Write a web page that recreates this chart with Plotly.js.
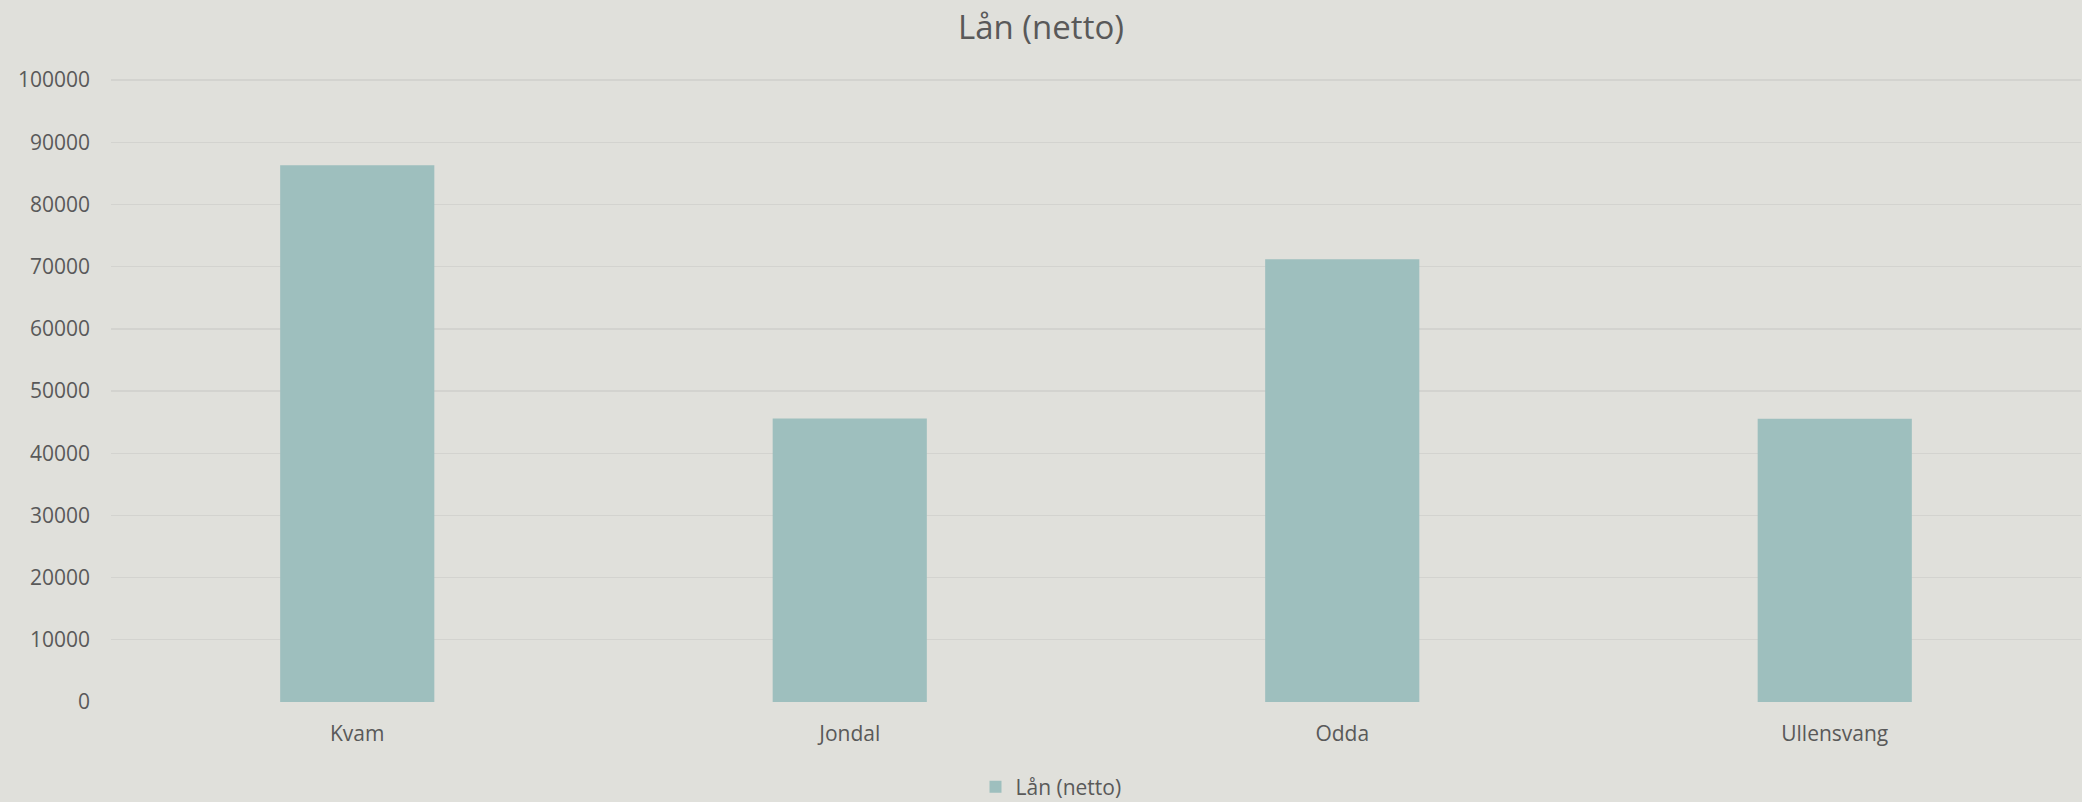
<!DOCTYPE html>
<html>
<head>
<meta charset="utf-8">
<script src="https://cdn.plot.ly/plotly-3.0.1.min.js"></script>
<style>html,body{margin:0;padding:0;background:#E0E0DB;}</style>
</head>
<body>
<div id="chart" style="width:2082px;height:802px;"></div>
<script>
const categories = ["Kvam", "Jondal", "Odda", "Ullensvang"];
const values = [86300, 45600, 71200, 45550];
const seriesName = "Lån (netto)";
const chartTitle = "Lån (netto)";
const yTicks = [0, 10000, 20000, 30000, 40000, 50000, 60000, 70000, 80000, 90000, 100000];

const trace = {
  type: 'bar',
  x: categories,
  y: values,
  name: seriesName,
  marker: {color: '#9EBFBE'},
  showlegend: true
};

const layout = {
  width: 2082, height: 802,
  paper_bgcolor: '#E0E0DB',
  plot_bgcolor: '#E0E0DB',
  font: {family: '"Open Sans", sans-serif', color: '#595959', size: 21},
  title: {text: chartTitle, font: {size: 33, color: '#595959'}, x: 0.5, xanchor: 'center', y: 1 - 27/802, yanchor: 'middle', yref: 'container'},
  margin: {l: 111, r: 1, t: 77, b: 100, pad: 0},
  bargap: 0.687,
  xaxis: {
    type: 'category',
    showgrid: false, zeroline: false, showline: false,
    ticks: '', tickfont: {size: 21, color: '#595959'},
    ticklabelstandoff: 17
  },
  yaxis: {
    range: [0, 100500],
    tickvals: yTicks,
    ticktext: yTicks.map(String),
    showgrid: true, gridcolor: '#D3D3CF', gridwidth: 1.3,
    zeroline: false, showline: false,
    ticks: '', tickfont: {size: 21, color: '#595959'},
    ticklabelstandoff: 20
  },
  showlegend: true,
  legend: {
    orientation: 'h', x: 0.5 - 45/1970, xanchor: 'center', y: 1 - 787/802, yanchor: 'middle', yref: 'container',
    font: {size: 21, color: '#595959'}, bgcolor: 'rgba(0,0,0,0)', itemwidth: 30
  }
};

Plotly.newPlot('chart', [trace], layout, {displayModeBar: false, staticPlot: true});
</script>
</body>
</html>
